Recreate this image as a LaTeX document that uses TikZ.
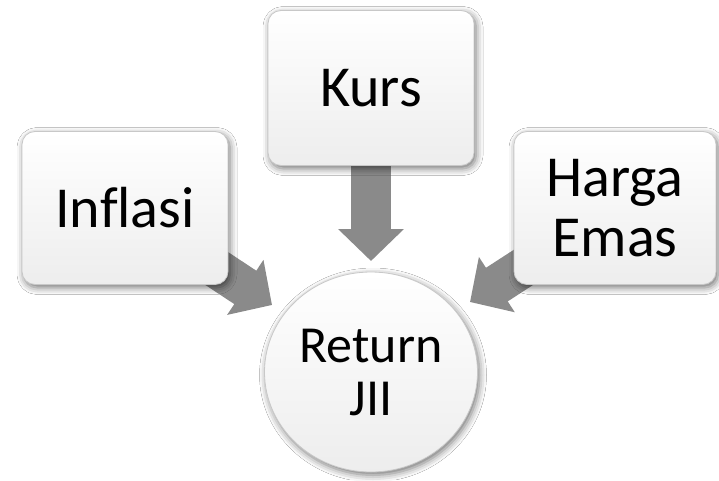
\documentclass[tikz,border=0pt]{standalone}
\usepackage{fontspec}
\setmainfont{Carlito}[Ligatures=NoCommon]
\usetikzlibrary{shapes.geometric,arrows.meta,shadows.blur,backgrounds}
\definecolor{arrgray}{RGB}{138,138,138}
\definecolor{edgegray}{RGB}{200,200,200}
\begin{document}
\begin{tikzpicture}[x=1pt,y=-1pt,
  shad/.style={blur shadow={shadow xshift=2pt, shadow yshift=-3pt, shadow blur radius=7pt, shadow opacity=55}},
  box/.style={shad, draw=edgegray, line width=0.8pt, rounded corners=13pt,
    minimum width=206pt, minimum height=153pt, top color=white, bottom color=gray!14,
    align=center, inner sep=0pt, font=\fontsize{58}{60}\selectfont},
  retnode/.style={shad, ellipse, draw=edgegray, line width=0.8pt,
    minimum width=213pt, minimum height=200pt, top color=white, bottom color=gray!14,
    align=center, inner sep=0pt, font=\fontsize{52}{53}\selectfont},
  conn/.style={draw=arrgray, line width=40pt, -{Triangle[width=64pt,length=32pt]}}]
\useasboundingbox (0,0) rectangle (719,480);
\node[box] (inflasi) at (125,208) {Inflasi};
\node[box, minimum height=155pt] (kurs) at (371,88) {Kurs};
\node[box, minimum width=202pt] (harga) at (615,208) {Harga\\Emas};
\node[retnode] (ret) at (371,372) {Return\\JII};
\coordinate (tipL) at (272,305);
\coordinate (tipK) at (371,261);
\coordinate (tipR) at (470,302);
\begin{scope}[on background layer]
  \fill[white] (0,0) rectangle (719,480);
  \draw[conn] (inflasi.center) -- (tipL);
  \draw[conn] (kurs.center) -- (tipK);
  \draw[conn] (harga.center) -- (tipR);
\end{scope}
\end{tikzpicture}
\end{document}
